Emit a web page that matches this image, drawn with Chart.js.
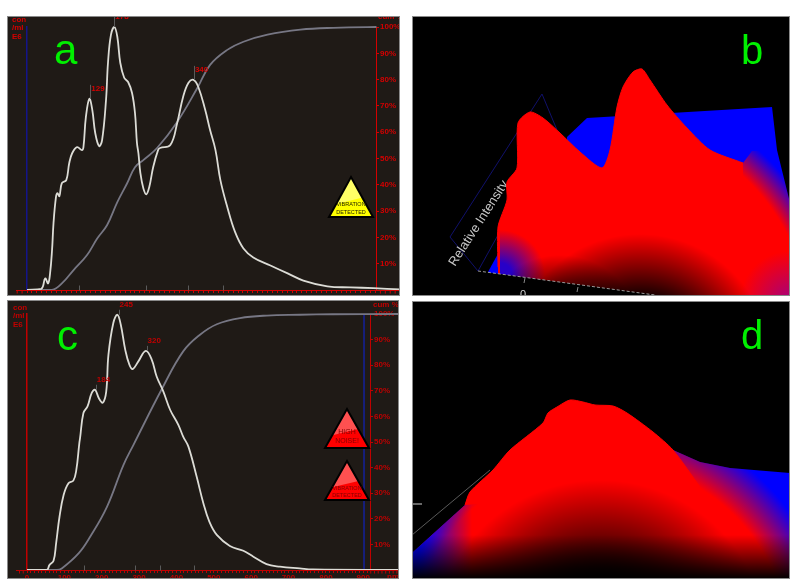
<!DOCTYPE html>
<html lang="en">
<head>
    <meta charset="UTF-8">
    <title>Particle size panels a-d</title>
    <script src="https://cdn.jsdelivr.net/npm/chart.js"></script>
    <style>
        html, body { margin: 0; padding: 0; background: #fff; overflow: hidden; }
        .panel { position: absolute; outline: 1px solid #8a8a8a; outline-offset: -1px; }
        .panel canvas { display: block; }
        #panelA { left: 7px; top: 16px; width: 393px; height: 280px; background: #1f1a16; }
        #panelC { left: 7px; top: 300px; width: 392px; height: 279px; background: #1f1a16; }
        #panelB { left: 412px; top: 16px; width: 378px; height: 280px; background: #000; }
        #panelD { left: 412px; top: 301px; width: 378px; height: 278px; background: #000; }
    </style>
</head>
<body>
<div class="panel" id="panelA"><canvas id="chartA" width="393" height="280"></canvas></div>
<div class="panel" id="panelB"><canvas id="chartB" width="378" height="280"></canvas></div>
<div class="panel" id="panelC"><canvas id="chartC" width="392" height="279"></canvas></div>
<div class="panel" id="panelD"><canvas id="chartD" width="378" height="278"></canvas></div>

<script>
    // panel a: size (nm) against concentration and cumulative %
    const sizeA = [0, 29, 37, 43, 47, 51, 54, 59, 62, 66, 71, 80, 86, 92, 102, 112, 115, 120, 127, 133, 139, 147, 153, 161, 165, 171, 178, 184, 190, 198, 206, 214, 220, 224, 227, 231, 237, 243, 249, 257, 267, 271, 292, 306, 318, 329, 339, 349, 363, 373, 384, 394, 408, 424, 441, 461, 496, 531, 563, 612, 659, 706, 761];
    const concA = [0, 0.4, 4.4, 2.5, 6.3, 15.1, 25.4, 35.3, 36.8, 35.7, 40.6, 41.8, 48.2, 52, 54.3, 53.2, 54.3, 65.8, 72.7, 68.5, 59.7, 54.7, 57, 72.3, 86.4, 97, 100, 96.3, 86.4, 80.7, 79.1, 74.9, 67.3, 55.9, 52, 44.4, 38.7, 36.4, 39.1, 46.7, 53.2, 54, 55.1, 63.5, 73.4, 78.8, 79.9, 77.2, 68.5, 60.8, 53.2, 41.8, 31.6, 22, 15.8, 12.4, 9.3, 6.3, 3.6, 1.4, 1, 0.7, 0.2];
    const cumSizeA = [0, 51, 73, 94, 122, 143, 163, 184, 204, 220, 237, 265, 306, 347, 373, 408, 441, 490, 557, 624, 712, 761];
    const cumA = [0, 0, 2.9, 7.4, 13.2, 19.6, 24.6, 33.4, 40.6, 46.7, 49.4, 54, 63.9, 76.8, 85.6, 91.3, 94.4, 97.1, 99, 99.7, 100, 100];
    const peakSizeA = [129, 178, 340];
    const peakConcA = [72.7, 100, 79.9];
    const markSizeA = [105, 243, 328, 400];

    // panel c
    const sizeC = [0, 53, 60, 71, 78, 87, 98, 111, 124, 132, 140, 142, 151, 162, 173, 182, 193, 203, 212, 218, 231, 242, 251, 263, 274, 283, 298, 318, 334, 347, 365, 383, 405, 418, 432, 454, 472, 488, 508, 543, 579, 606, 641, 677, 730, 765, 995];
    const concC = [0, 0, 1.9, 3.6, 10.5, 20.8, 29.3, 33.9, 34.9, 39.1, 49.5, 51.5, 61.3, 63.9, 69.1, 70.4, 66.9, 65.4, 69.7, 84.1, 96.5, 99.7, 95.8, 86, 80.2, 78.5, 81.5, 85.6, 82.1, 75.6, 69.7, 62.6, 56.7, 52.1, 48.2, 36.5, 26.1, 18.9, 13.7, 9.4, 7.5, 5.2, 2.3, 1.3, 0.6, 0.2, 0];
    const cumSizeC = [0, 80, 93, 138, 169, 214, 258, 285, 362, 418, 463, 508, 570, 642, 730, 819, 995];
    const cumC = [0, 0, 0.6, 6.5, 13, 24.7, 41, 48.9, 71, 85.4, 91.9, 96, 98.4, 99.4, 99.7, 99.9, 100];
    const peakSizeC = [184, 245, 320];
    const peakConcC = [70.4, 99.7, 85.6];
    const markSizeC = [153, 290, 356, 447];
    const cutoffSizeC = [902, 902];
    const cutoffLevelC = [0, 100];

    // panel b surface silhouettes
    const backXB = [155, 175, 360, 365, 378];
    const backYB = [159, 178, 189, 146, 93];
    const lowXB = [76, 88, 110];
    const lowYB = [24, 46, 46];
    const capXB = [86, 86, 95, 95, 105, 106, 118, 131, 148, 168, 190, 198, 205, 211, 221, 230, 238, 255, 275, 298, 331];
    const capYB = [29, 69, 96, 114, 128, 173, 184, 178, 163, 144, 128, 146, 189, 209, 224, 227, 216, 191, 168, 146, 133];
    const chordXB = [86, 331];
    const chordYB = [29, 80];
    const skirtXB = [86, 106, 230, 298, 331, 340, 365, 378];
    const skirtYB = [29, 120, 120, 140, 133, 145, 146, 93];
    const floorXB = [66, 243];
    const floorYB = [25, 1];

    // panel d surface silhouettes
    const backXD = [0, 53, 158, 261, 288, 318, 378];
    const backYD = [26, 74, 139, 129, 117, 111, 106];
    const edgeXD = [0, 53, 60];
    const edgeYD = [26, 74, 80];
    const ridgeXD = [0, 53, 58, 81, 98, 131, 136, 145, 158, 171, 183, 201, 215, 241, 261, 288, 318, 378];
    const ridgeYD = [26, 74, 87, 109, 129, 156, 166, 172, 179, 177, 174, 173, 166, 147, 129, 117, 111, 106];
    const capXD = [53, 58, 81, 98, 131, 136, 145, 158, 171, 183, 201, 215, 241, 261, 288];
    const capYD = [74, 87, 109, 129, 156, 166, 172, 179, 177, 174, 173, 166, 147, 129, 92];
    const chordXD = [53, 288];
    const chordYD = [74, 92];

    const SANS = '"Liberation Sans", Arial, sans-serif';
    const pairs = (xs, ys) => xs.map((x, i) => ({ x: x, y: ys[i] }));

    function drawWire(ctx, w) {
        ctx.save();
        ctx.strokeStyle = w.color;
        ctx.lineWidth = 1;
        ctx.beginPath();
        w.points.forEach((p, i) => i ? ctx.lineTo(p[0], p[1]) : ctx.moveTo(p[0], p[1]));
        ctx.stroke();
        ctx.restore();
    }

    // labels, triangles and the wire lines that are not part of any scale
    const annotations = {
        id: 'annotations',
        beforeDatasetsDraw(chart, args, opts) {
            (opts.wires || []).forEach(w => drawWire(chart.ctx, w));
            (opts.under || []).forEach(t => drawText(chart.ctx, t));
        },
        afterDraw(chart, args, opts) {
            const ctx = chart.ctx;
            (opts.overWires || []).forEach(w => drawWire(ctx, w));
            (opts.triangles || []).forEach(t => drawTriangle(ctx, t));
            (opts.texts || []).forEach(t => drawText(ctx, t));
        }
    };

    function drawText(ctx, t) {
        ctx.save();
        ctx.translate(t.x, t.y);
        if (t.rotate) ctx.rotate(t.rotate);
        ctx.font = t.font;
        ctx.fillStyle = t.color;
        ctx.textAlign = t.align || 'left';
        ctx.textBaseline = t.baseline || 'middle';
        ctx.fillText(t.text, 0, 0);
        ctx.restore();
    }

    function drawTriangle(ctx, t) {
        const path = () => {
            ctx.beginPath();
            ctx.moveTo(t.cx, t.top);
            ctx.lineTo(t.cx + t.half, t.bottom);
            ctx.lineTo(t.cx - t.half, t.bottom);
            ctx.closePath();
        };
        ctx.save();
        path();
        ctx.fillStyle = t.base;
        ctx.fill();
        ctx.clip();
        ctx.beginPath();
        ctx.moveTo(t.cx - t.half, t.top);
        ctx.lineTo(t.cx + t.half, t.top);
        ctx.lineTo(t.cx + t.half, t.top + (t.bottom - t.top) * 0.45);
        ctx.lineTo(t.cx - t.half, t.top + (t.bottom - t.top) * 0.72);
        ctx.closePath();
        ctx.fillStyle = t.light;
        ctx.fill();
        ctx.restore();
        path();
        ctx.lineWidth = 2;
        ctx.lineJoin = 'miter';
        ctx.strokeStyle = '#000';
        ctx.stroke();
        t.lines.forEach((line, i) => drawText(ctx, {
            text: line, x: t.cx, y: t.lineY[i], align: 'center', font: t.font + 'px ' + SANS, color: t.ink
        }));
    }

    // baseline past the plot area, peak stems and labels, size marks
    const distDecor = {
        id: 'distDecor',
        afterDatasetsDraw(chart, args, opts) {
            const ctx = chart.ctx, x = chart.scales.x, y = chart.scales.y;
            const base = Math.round(y.getPixelForValue(0)) + 0.5;
            ctx.save();
            ctx.strokeStyle = opts.red;
            ctx.lineWidth = 1;
            ctx.beginPath();
            ctx.moveTo(9, base);
            ctx.lineTo(chart.width, base);
            for (let v = -50; v < 1100; v += 10) {
                const px = x.getPixelForValue(v);
                if ((v < x.min || v > x.max) && px > 9 && px < chart.width) {
                    ctx.moveTo(px, base);
                    ctx.lineTo(px, base + 3);
                }
            }
            ctx.stroke();
            ctx.strokeStyle = '#5a5a5a';
            ctx.beginPath();
            opts.marks.forEach(v => {
                const px = Math.round(x.getPixelForValue(v)) + 0.5;
                ctx.moveTo(px, base - 5);
                ctx.lineTo(px, base);
            });
            opts.peaks.forEach((v, i) => {
                const px = Math.round(x.getPixelForValue(v)) + 0.5;
                const py = y.getPixelForValue(opts.peakLevels[i]);
                ctx.moveTo(px, py);
                ctx.lineTo(px, py - opts.stem);
            });
            ctx.stroke();
            ctx.restore();
            opts.peaks.forEach((v, i) => drawText(ctx, {
                text: String(v),
                x: x.getPixelForValue(v) + 1,
                y: y.getPixelForValue(opts.peakLevels[i]) - 10,
                font: 'bold 8px ' + SANS,
                color: opts.red
            }));
        }
    };

    function distChart(id, c) {
        const line = (xs, ys, color) => ({
            data: pairs(xs, ys), borderColor: color, borderWidth: 1.8,
            pointRadius: 0, tension: 0.4, fill: false, clip: false
        });
        const datasets = [
            line(c.size, c.conc, '#dcdcd6'),
            line(c.cumSize, c.cum, '#777784')
        ];
        if (c.cutoff) {
            datasets.push({ data: pairs(c.cutoff[0], c.cutoff[1]), borderColor: '#14209a', borderWidth: 1.5, pointRadius: 0 });
        }
        return new Chart(document.getElementById(id), {
            type: 'line',
            data: { datasets: datasets },
            plugins: [distDecor, annotations],
            options: {
                responsive: false,
                animation: false,
                layout: { padding: { top: c.top } },
                scales: {
                    x: {
                        type: 'linear', min: 0, max: c.xMax,
                        afterFit: s => { s.height = c.bottom; },
                        border: { color: c.red },
                        grid: { drawOnChartArea: false, tickLength: 3, tickColor: c.red },
                        ticks: {
                            stepSize: 10, autoSkip: false, maxRotation: 0, includeBounds: false,
                            padding: c.xPad, color: c.red, font: { size: 8, family: SANS, weight: 'bold' },
                            callback: v => v % 100 === 0 ? String(v) : ''
                        }
                    },
                    yLeft: {
                        position: 'left', min: 0, max: 100,
                        afterFit: s => { s.width = c.leftW; },
                        border: { color: c.leftColor, width: 1.5 },
                        grid: { display: false },
                        ticks: { display: false }
                    },
                    y: {
                        position: 'right', min: 0, max: 100,
                        afterFit: s => { s.width = c.rightW; },
                        border: { color: c.red },
                        grid: { drawOnChartArea: false, tickLength: 3, tickColor: c.red },
                        ticks: {
                            stepSize: 10, padding: 1, color: c.red,
                            font: { size: 8, family: SANS, weight: 'bold' },
                            callback: v => v ? v + '%' : ''
                        }
                    }
                },
                plugins: {
                    legend: { display: false },
                    tooltip: { enabled: false },
                    distDecor: { red: c.red, marks: c.marks, peaks: c.peaks, peakLevels: c.peakLevels, stem: c.stem },
                    annotations: { texts: c.texts, triangles: c.triangles }
                }
            }
        });
    }

    distChart('chartA', {
        size: sizeA, conc: concA, cumSize: cumSizeA, cum: cumA,
        peaks: peakSizeA, peakLevels: peakConcA, marks: markSizeA,
        xMax: 711, top: 11, bottom: 6, leftW: 20, rightW: 24, xPad: 2, stem: 14,
        red: '#d40000', leftColor: '#14148a',
        triangles: [{
            cx: 344, top: 161, bottom: 201, half: 22, base: '#ffff00', light: '#ffff66', ink: '#222200', font: 5.5,
            lines: ['VIBRATION', 'DETECTED'], lineY: [188, 196]
        }],
        texts: [
            { text: 'a', x: 47, y: 36, font: '42px ' + SANS, color: '#00f000' },
            { text: 'con', x: 5, y: 4, font: 'bold 8px ' + SANS, color: '#d40000' },
            { text: '/ml', x: 5, y: 12, font: 'bold 8px ' + SANS, color: '#d40000' },
            { text: 'E6', x: 5, y: 21, font: 'bold 8px ' + SANS, color: '#d40000' },
            { text: 'cum %', x: 371, y: 1, font: 'bold 8px ' + SANS, color: '#d40000' }
        ]
    });

    distChart('chartC', {
        size: sizeC, conc: concC, cumSize: cumSizeC, cum: cumC,
        cutoff: [cutoffSizeC, cutoffLevelC],
        peaks: peakSizeC, peakLevels: peakConcC, marks: markSizeC,
        xMax: 918, top: 14, bottom: 9, leftW: 20, rightW: 29, xPad: 0, stem: 5,
        red: '#c00000', leftColor: '#c00000',
        triangles: [{
            cx: 340, top: 109, bottom: 148, half: 22, base: '#ff0000', light: '#ff5050', ink: '#800000', font: 7,
            lines: ['HIGH', 'NOISE!'], lineY: [132, 141]
        }, {
            cx: 340, top: 161, bottom: 200, half: 22, base: '#ff0000', light: '#ff5050', ink: '#800000', font: 5.5,
            lines: ['VIBRATION', 'DETECTED'], lineY: [188, 195]
        }],
        texts: [
            { text: 'c', x: 50, y: 38, font: '42px ' + SANS, color: '#00f000' },
            { text: 'con', x: 6, y: 8, font: 'bold 8px ' + SANS, color: '#c00000' },
            { text: '/ml', x: 6, y: 16, font: 'bold 8px ' + SANS, color: '#c00000' },
            { text: 'E6', x: 6, y: 25, font: 'bold 8px ' + SANS, color: '#c00000' },
            { text: 'cum %', x: 366, y: 5, font: 'bold 8px ' + SANS, color: '#c00000' },
            { text: 'nm', x: 380, y: 277, font: 'bold 8px ' + SANS, color: '#c00000' }
        ]
    });

    // hidden 0..width / 0..height axes, the surfaces are flat silhouettes
    function surfaceChart(id, w, h, datasets, annot) {
        return new Chart(document.getElementById(id), {
            type: 'line',
            data: { datasets: datasets },
            plugins: [annotations],
            options: {
                responsive: false,
                animation: false,
                scales: {
                    x: { type: 'linear', min: 0, max: w, display: false },
                    y: { min: 0, max: h, display: false }
                },
                plugins: {
                    legend: { display: false },
                    tooltip: { enabled: false },
                    annotations: annot
                }
            }
        });
    }

    function radial(id, cx, cy, r0, r1, inner, outer) {
        const g = document.getElementById(id).getContext('2d').createRadialGradient(cx, cy, r0, cx, cy, r1);
        g.addColorStop(0, inner);
        g.addColorStop(1, outer);
        return g;
    }

    function linear(id, x0, y0, x1, y1, from, to) {
        const g = document.getElementById(id).getContext('2d').createLinearGradient(x0, y0, x1, y1);
        g.addColorStop(0, from);
        g.addColorStop(1, to);
        return g;
    }

    const area = (xs, ys, bg) => ({
        data: pairs(xs, ys), backgroundColor: bg, borderWidth: 0, pointRadius: 0, fill: 'start'
    });
    const cap = (xs, ys) => ({
        data: pairs(xs, ys), backgroundColor: '#ff0000', borderColor: '#ff0000', borderWidth: 1,
        pointRadius: 0, tension: 0.25, fill: '+1'
    });
    const chord = (xs, ys) => ({ data: pairs(xs, ys), borderWidth: 0, pointRadius: 0, fill: false });

    // first dataset ends up on top
    surfaceChart('chartB', 378, 280, [
        { data: pairs(floorXB, floorYB), borderColor: '#9a9a9a', borderWidth: 1, borderDash: [3, 2], pointRadius: 0, fill: false },
        area(floorXB, floorYB, '#000'),
        area([0, 378], [280, 280], radial('chartB', 148, 324, 30, 85, 'rgba(0,0,0,1)', 'rgba(0,0,0,0)')),
        area([0, 378], [280, 280], radial('chartB', 228, 350, 65, 132, 'rgba(0,0,0,1)', 'rgba(0,0,0,0)')),
        area([88, 140], [70, 70], radial('chartB', 88, 259, 12, 45, 'rgba(40,0,200,1)', 'rgba(40,0,200,0)')),
        area([300, 378], [90, 90], radial('chartB', 378, 285, 0, 50, 'rgba(90,0,230,0.55)', 'rgba(90,0,230,0)')),
        cap(capXB, capYB),
        chord(chordXB, chordYB),
        area(skirtXB, skirtYB, radial('chartB', 188, 314, 210, 240, 'rgba(255,0,0,1)', 'rgba(255,0,0,0)')),
        area(lowXB, lowYB, '#0000ff'),
        area(backXB, backYB, '#0000ff')
    ], {
        wires: [
            { color: '#10106a', points: [[38, 221], [130, 78], [145, 114]] },
            { color: '#10106a', points: [[38, 221], [66, 255], [86, 219]] }
        ],
        under: [{ text: 'Relative Intensity', x: 43, y: 251, rotate: -1.0, baseline: 'alphabetic', font: '13px ' + SANS, color: '#c8c8c8' }],
        overWires: [
            { color: '#8a8a8a', points: [[113, 262], [112, 267]] },
            { color: '#8a8a8a', points: [[166, 271], [165, 276]] }
        ],
        texts: [
            { text: 'b', x: 329, y: 37, font: '40px ' + SANS, color: '#00f000' },
            { text: '0', x: 108, y: 279, font: '11px ' + SANS, color: '#d0d0d0' }
        ]
    });

    surfaceChart('chartD', 378, 278, [
        area([0, 378], [278, 278], linear('chartD', 0, 234, 0, 278, 'rgba(0,0,0,0)', 'rgba(0,0,0,1)')),
        area([0, 378], [278, 278], radial('chartD', 188, 349, 70, 170, 'rgba(0,0,0,1)', 'rgba(0,0,0,0)')),
        cap(capXD, capYD),
        chord(chordXD, chordYD),
        area(edgeXD, edgeYD, linear('chartD', 8, 0, 60, 0, 'rgba(0,0,255,1)', 'rgba(0,0,255,0)')),
        area(ridgeXD, ridgeYD, radial('chartD', 188, 349, 190, 235, 'rgba(255,0,0,1)', 'rgba(255,0,0,0)')),
        area(backXD, backYD, '#0000ff')
    ], {
        wires: [
            { color: '#5a5a5a', points: [[0, 234], [78, 169]] },
            { color: '#d0d0d0', points: [[0, 203], [10, 203]] }
        ],
        texts: [
            { text: 'd', x: 329, y: 37, font: '40px ' + SANS, color: '#00f000' }
        ]
    });
</script>
</body>
</html>
